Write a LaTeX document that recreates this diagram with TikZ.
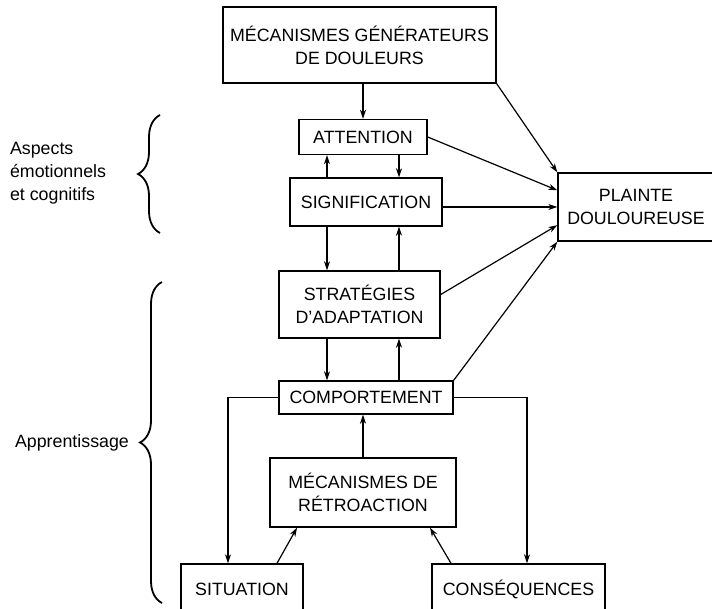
\documentclass[tikz,border=0pt]{standalone}
\usepackage{fontspec}
\setmainfont{Liberation Sans}
\usepackage{tikz}
\usetikzlibrary{arrows.meta,decorations.pathreplacing}

\begin{document}
\begin{tikzpicture}[
    x=0.5pt,y=-0.5pt,
    >={Stealth[length=4.5pt,width=3pt]},
    font=\fontsize{8.9}{11.4}\selectfont,
    box/.style={
        draw,
        line width=0.7pt,
        inner sep=0pt,
        align=center
    },
    link/.style={->,line width=0.6pt},
    accolade/.style={
        decorate,
        decoration={brace,amplitude=11pt},
        line width=0.9pt
    }
]
\useasboundingbox (0,0) rectangle (712,609);

\node[box, minimum width=136.5pt, minimum height=38pt] (gen)     at (359.5,45)  {MÉCANISMES GÉNÉRATEURS\\DE DOULEURS};
\node[box, minimum width=64pt,    minimum height=17.5pt] (attention) at (363,137) {ATTENTION};
\node[box, minimum width=76pt,    minimum height=24pt] (signif)  at (366,202)  {SIGNIFICATION};
\node[box, minimum width=80.5pt,  minimum height=33.5pt] (strat) at (359.5,304.5) {STRATÉGIES\\D’ADAPTATION};
\node[box, minimum width=87pt,    minimum height=16.5pt] (comp)  at (366,397.5) {COMPORTEMENT};
\node[box, minimum width=93pt,    minimum height=34.5pt] (retro) at (363,492.5) {MÉCANISMES DE\\RÉTROACTION};
\node[box, minimum width=61pt,    minimum height=25pt] (situation) at (242,589) {SITUATION};
\node[box, minimum width=86.5pt,  minimum height=25pt] (conseq)  at (518.5,589) {CONSÉQUENCES};
\node[box, minimum width=78pt,    minimum height=34pt] (plainte) at (636,207)  {PLAINTE\\DOULOUREUSE};

% les accolades a gauche
\node[anchor=west, align=left] (aspects) at (3,173) {Aspects\\émotionnels\\et cognitifs};
\node[anchor=west] (apprent) at (8,443) {Apprentissage};
\draw[accolade] (160,233) -- (160,115);
\draw[accolade] (162,603) -- (162,282);

% colonnes des fleches doubles
\coordinate (cl) at ([xshift=-18pt]attention.south);
\coordinate (cr) at ([xshift=18pt]attention.south);

\draw[link] (gen.south -| attention) -- (attention.north);
\draw[link] (cl |- signif.north) -- (cl);
\draw[link] (cr) -- (cr |- signif.north);
\draw[link] (cl |- signif.south) -- (cl |- strat.north);
\draw[link] (cr |- strat.north) -- (cr |- signif.south);
\draw[link] (cl |- strat.south) -- (cl |- comp.north);
\draw[link] (cr |- comp.north) -- (cr |- strat.south);
\draw[link] (retro.north) -- (retro.north |- comp.south);

% vers la plainte
\draw[link] (gen.south east) -- (plainte.north west);
\draw[link] (attention.east) -- (plainte.168);
\draw[link] (plainte.west -| signif.east) -- (plainte.west);
\draw[link] (strat.7) -- (plainte.193);
\draw[link] (comp.north east) -- (plainte.south west);

% boucle d'apprentissage
\draw[link] (comp.west) -| ([xshift=-7pt]situation.north);
\draw[link] (comp.east) -| ([xshift=4.25pt]conseq.north);
\draw[link] ([xshift=17.5pt]situation.north) -- ([xshift=-33pt]retro.south);
\draw[link] ([xshift=-33.75pt]conseq.north) -- ([xshift=33.5pt]retro.south);

\end{tikzpicture}
\end{document}
